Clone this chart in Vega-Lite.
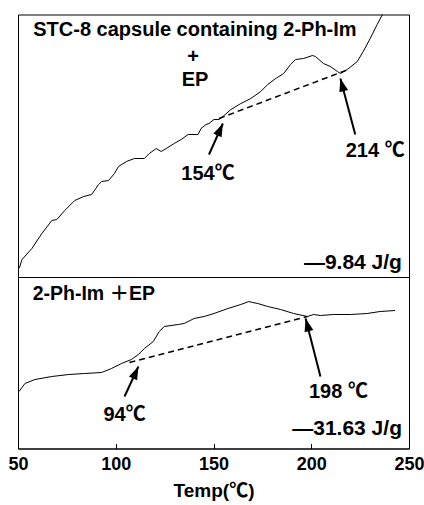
{
  "$schema": "https://vega.github.io/schema/vega-lite/v6.json",
  "padding": {"left": 7, "top": 12.5, "right": 5, "bottom": 0},
  "width": 391,
  "height": 434,
  "config": {
    "view": {"stroke": "#000000", "strokeWidth": 1},
    "font": "Liberation Sans, Noto Sans CJK JP",
    "text": {"font": "Liberation Sans, Noto Sans CJK JP", "fontWeight": "bold", "color": "#000000"},
    "axis": {"domainColor": "#000000", "tickColor": "#000000", "labelColor": "#000000", "titleColor": "#000000", "labelFont": "Liberation Sans", "titleFont": "Liberation Sans, Noto Sans CJK JP", "grid": false}
  },
  "datasets": {
    "curves": [
      {"panel": "STC-8 capsule", "temp": 50.66, "hf": 18.03}, {"panel": "STC-8 capsule", "temp": 52.04, "hf": 18.9},
      {"panel": "STC-8 capsule", "temp": 57.12, "hf": 20.0}, {"panel": "STC-8 capsule", "temp": 62.21, "hf": 21.5},
      {"panel": "STC-8 capsule", "temp": 67.3, "hf": 22.8}, {"panel": "STC-8 capsule", "temp": 69.85, "hf": 22.9},
      {"panel": "STC-8 capsule", "temp": 73.92, "hf": 23.8}, {"panel": "STC-8 capsule", "temp": 79.01, "hf": 24.8},
      {"panel": "STC-8 capsule", "temp": 83.59, "hf": 25.2}, {"panel": "STC-8 capsule", "temp": 87.66, "hf": 25.4},
      {"panel": "STC-8 capsule", "temp": 91.22, "hf": 26.4}, {"panel": "STC-8 capsule", "temp": 92.75, "hf": 26.7},
      {"panel": "STC-8 capsule", "temp": 96.31, "hf": 26.8}, {"panel": "STC-8 capsule", "temp": 99.36, "hf": 27.5},
      {"panel": "STC-8 capsule", "temp": 101.4, "hf": 28.2}, {"panel": "STC-8 capsule", "temp": 105.47, "hf": 28.7},
      {"panel": "STC-8 capsule", "temp": 109.54, "hf": 29.0}, {"panel": "STC-8 capsule", "temp": 114.63, "hf": 29.0},
      {"panel": "STC-8 capsule", "temp": 117.18, "hf": 29.5}, {"panel": "STC-8 capsule", "temp": 120.74, "hf": 30.0},
      {"panel": "STC-8 capsule", "temp": 123.28, "hf": 29.7}, {"panel": "STC-8 capsule", "temp": 125.83, "hf": 30.0},
      {"panel": "STC-8 capsule", "temp": 129.9, "hf": 30.5}, {"panel": "STC-8 capsule", "temp": 133.46, "hf": 30.9},
      {"panel": "STC-8 capsule", "temp": 137.02, "hf": 31.4}, {"panel": "STC-8 capsule", "temp": 142.11, "hf": 31.4},
      {"panel": "STC-8 capsule", "temp": 143.64, "hf": 32.0}, {"panel": "STC-8 capsule", "temp": 146.18, "hf": 32.4},
      {"panel": "STC-8 capsule", "temp": 147.71, "hf": 32.5}, {"panel": "STC-8 capsule", "temp": 150.25, "hf": 32.9},
      {"panel": "STC-8 capsule", "temp": 152.8, "hf": 32.9}, {"panel": "STC-8 capsule", "temp": 154.83, "hf": 33.2},
      {"panel": "STC-8 capsule", "temp": 158.91, "hf": 33.9}, {"panel": "STC-8 capsule", "temp": 163.99, "hf": 34.5},
      {"panel": "STC-8 capsule", "temp": 169.08, "hf": 35.0}, {"panel": "STC-8 capsule", "temp": 174.17, "hf": 35.7},
      {"panel": "STC-8 capsule", "temp": 177.73, "hf": 36.4}, {"panel": "STC-8 capsule", "temp": 181.81, "hf": 37.0},
      {"panel": "STC-8 capsule", "temp": 185.88, "hf": 37.5}, {"panel": "STC-8 capsule", "temp": 189.44, "hf": 38.4},
      {"panel": "STC-8 capsule", "temp": 191.98, "hf": 38.9}, {"panel": "STC-8 capsule", "temp": 196.06, "hf": 39.0},
      {"panel": "STC-8 capsule", "temp": 200.64, "hf": 39.3}, {"panel": "STC-8 capsule", "temp": 202.16, "hf": 39.2},
      {"panel": "STC-8 capsule", "temp": 206.23, "hf": 38.5}, {"panel": "STC-8 capsule", "temp": 209.8, "hf": 38.2},
      {"panel": "STC-8 capsule", "temp": 213.36, "hf": 37.7}, {"panel": "STC-8 capsule", "temp": 214.89, "hf": 37.5},
      {"panel": "STC-8 capsule", "temp": 218.45, "hf": 37.9}, {"panel": "STC-8 capsule", "temp": 223.54, "hf": 38.7},
      {"panel": "STC-8 capsule", "temp": 226.59, "hf": 39.7}, {"panel": "STC-8 capsule", "temp": 230.15, "hf": 41.0},
      {"panel": "STC-8 capsule", "temp": 233.72, "hf": 42.4}, {"panel": "STC-8 capsule", "temp": 236.4, "hf": 43.4},
      {"panel": "2-Ph-Im", "temp": 50.51, "hf": 5.7}, {"panel": "2-Ph-Im", "temp": 53.56, "hf": 6.5},
      {"panel": "2-Ph-Im", "temp": 58.65, "hf": 6.9}, {"panel": "2-Ph-Im", "temp": 67.3, "hf": 7.2},
      {"panel": "2-Ph-Im", "temp": 75.95, "hf": 7.4}, {"panel": "2-Ph-Im", "temp": 84.1, "hf": 7.5},
      {"panel": "2-Ph-Im", "temp": 92.75, "hf": 7.6}, {"panel": "2-Ph-Im", "temp": 97.84, "hf": 8.0},
      {"panel": "2-Ph-Im", "temp": 102.93, "hf": 8.5}, {"panel": "2-Ph-Im", "temp": 108.02, "hf": 8.9},
      {"panel": "2-Ph-Im", "temp": 111.58, "hf": 9.4}, {"panel": "2-Ph-Im", "temp": 114.63, "hf": 10.0},
      {"panel": "2-Ph-Im", "temp": 119.21, "hf": 10.7}, {"panel": "2-Ph-Im", "temp": 122.26, "hf": 11.7},
      {"panel": "2-Ph-Im", "temp": 124.81, "hf": 12.2}, {"panel": "2-Ph-Im", "temp": 131.93, "hf": 12.4},
      {"panel": "2-Ph-Im", "temp": 134.99, "hf": 12.5}, {"panel": "2-Ph-Im", "temp": 140.08, "hf": 13.0},
      {"panel": "2-Ph-Im", "temp": 145.17, "hf": 13.2}, {"panel": "2-Ph-Im", "temp": 150.25, "hf": 13.5},
      {"panel": "2-Ph-Im", "temp": 157.38, "hf": 14.0}, {"panel": "2-Ph-Im", "temp": 163.99, "hf": 14.4},
      {"panel": "2-Ph-Im", "temp": 168.07, "hf": 14.7}, {"panel": "2-Ph-Im", "temp": 170.1, "hf": 14.6},
      {"panel": "2-Ph-Im", "temp": 172.65, "hf": 14.5}, {"panel": "2-Ph-Im", "temp": 177.73, "hf": 14.2},
      {"panel": "2-Ph-Im", "temp": 184.35, "hf": 13.9}, {"panel": "2-Ph-Im", "temp": 190.97, "hf": 13.5},
      {"panel": "2-Ph-Im", "temp": 198.09, "hf": 13.2}, {"panel": "2-Ph-Im", "temp": 201.15, "hf": 13.4},
      {"panel": "2-Ph-Im", "temp": 204.71, "hf": 13.3}, {"panel": "2-Ph-Im", "temp": 211.32, "hf": 13.4},
      {"panel": "2-Ph-Im", "temp": 219.97, "hf": 13.4}, {"panel": "2-Ph-Im", "temp": 228.63, "hf": 13.5},
      {"panel": "2-Ph-Im", "temp": 235.24, "hf": 13.7}, {"panel": "2-Ph-Im", "temp": 242.88, "hf": 13.8}
    ],
    "baselines": [
      {"panel": "STC-8 capsule", "temp": 152.8, "hf": 33.0}, {"panel": "STC-8 capsule", "temp": 219.0, "hf": 37.9},
      {"panel": "2-Ph-Im", "temp": 107.0, "hf": 8.6}, {"panel": "2-Ph-Im", "temp": 198.1, "hf": 13.2}
    ],
    "arrows": [
      {"side": "onset", "t0": 147.7, "h0": 29.4, "t1": 154.8, "h1": 32.5},
      {"side": "end", "t0": 222.5, "h0": 31.4, "t1": 214.9, "h1": 37.0},
      {"side": "onset", "t0": 104.5, "h0": 5.2, "t1": 111.6, "h1": 8.2},
      {"side": "end", "t0": 204.7, "h0": 7.2, "t1": 197.1, "h1": 13.0}
    ],
    "centerLabels": [
      {"temp": 140.5, "hf": 41.9, "label": "STC-8 capsule containing 2-Ph-Im"},
      {"temp": 139.6, "hf": 39.2, "label": "+"},
      {"temp": 140.6, "hf": 36.9, "label": "EP"},
      {"temp": 147.2, "hf": 27.5, "label": "154℃"},
      {"temp": 232.7, "hf": 29.8, "label": "214 ℃"},
      {"temp": 104.5, "hf": 3.4, "label": "94℃"},
      {"temp": 213.9, "hf": 5.7, "label": "198 ℃"}
    ],
    "energyLabels": [
      {"temp": 246.4, "hf": 18.6, "label": "—9.84 J/g"},
      {"temp": 246.4, "hf": 2.0, "label": "—31.63 J/g"}
    ],
    "panelLabels": [{"temp": 57.5, "hf": 15.5, "label": "2-Ph-Im ＋EP"}]
  },
  "layer": [
    {
      "data": {"name": "curves"},
      "mark": {"type": "line", "color": "#000000", "strokeWidth": 1},
      "encoding": {
        "x": {"field": "temp", "type": "quantitative", "scale": {"domain": [50, 250], "nice": false},
          "axis": {"title": "Temp(℃)", "values": [50, 100, 150, 200, 250], "tickSize": -5, "labelPadding": 12, "labelFontSize": 18, "labelFontWeight": "bold", "titleFontSize": 19, "titleFontWeight": "bold", "titlePadding": 8, "domainWidth": 1, "labelFlush": false}},
        "y": {"field": "hf", "type": "quantitative", "scale": {"domain": [0, 43.4], "nice": false, "zero": false}, "axis": null},
        "detail": {"field": "panel"}
      }
    },
    {
      "data": {"values": [{}]},
      "mark": {"type": "rule", "color": "#000000", "strokeWidth": 1},
      "encoding": {"y": {"datum": 17.1}}
    },
    {
      "data": {"name": "baselines"},
      "mark": {"type": "line", "color": "#000000", "strokeWidth": 1.5, "strokeDash": [6, 4]},
      "encoding": {
        "x": {"field": "temp", "type": "quantitative"},
        "y": {"field": "hf", "type": "quantitative"},
        "detail": {"field": "panel"}
      }
    },
    {
      "data": {"name": "arrows"},
      "mark": {"type": "rule", "color": "#000000", "strokeWidth": 2},
      "encoding": {
        "x": {"field": "t0", "type": "quantitative"},
        "y": {"field": "h0", "type": "quantitative"},
        "x2": {"field": "t1"},
        "y2": {"field": "h1"}
      }
    },
    {
      "data": {"name": "arrows"},
      "transform": [{"filter": "datum.side === 'onset'"}],
      "mark": {"type": "point", "shape": "M0,0L-0.45,1.3L0.45,1.3Z", "size": 400, "filled": true, "color": "#000000", "opacity": 1, "angle": 24.5},
      "encoding": {
        "x": {"field": "t1", "type": "quantitative"},
        "y": {"field": "h1", "type": "quantitative"}
      }
    },
    {
      "data": {"name": "arrows"},
      "transform": [{"filter": "datum.side === 'end'"}],
      "mark": {"type": "point", "shape": "M0,0L-0.45,1.3L0.45,1.3Z", "size": 400, "filled": true, "color": "#000000", "opacity": 1, "angle": 345},
      "encoding": {
        "x": {"field": "t1", "type": "quantitative"},
        "y": {"field": "h1", "type": "quantitative"}
      }
    },
    {
      "data": {"name": "centerLabels"},
      "mark": {"type": "text", "fontSize": 20, "align": "center", "baseline": "middle"},
      "encoding": {
        "x": {"field": "temp", "type": "quantitative"},
        "y": {"field": "hf", "type": "quantitative"},
        "text": {"field": "label"}
      }
    },
    {
      "data": {"name": "energyLabels"},
      "mark": {"type": "text", "fontSize": 21, "align": "right", "baseline": "middle"},
      "encoding": {
        "x": {"field": "temp", "type": "quantitative"},
        "y": {"field": "hf", "type": "quantitative"},
        "text": {"field": "label"}
      }
    },
    {
      "data": {"name": "panelLabels"},
      "mark": {"type": "text", "fontSize": 19.5, "align": "left", "baseline": "middle"},
      "encoding": {
        "x": {"field": "temp", "type": "quantitative"},
        "y": {"field": "hf", "type": "quantitative"},
        "text": {"field": "label"}
      }
    }
  ]
}
